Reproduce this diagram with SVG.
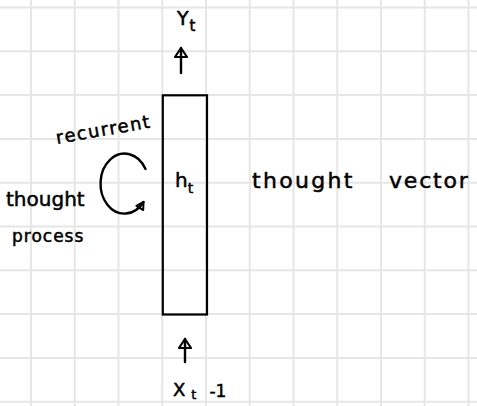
<svg xmlns="http://www.w3.org/2000/svg" width="477" height="406" viewBox="0 0 477 406">
  <style>
    .grid line { stroke: #e6e6e6; stroke-width: 2; }
    .ink { fill: none; stroke: #000; stroke-width: 2.4; stroke-linecap: round; stroke-linejoin: round; }
    .box { fill: none; stroke: #000; stroke-width: 2.2; }
    .hand { font-family: "DejaVu Sans", "Liberation Sans", sans-serif; fill: #000; stroke: #000; stroke-width: 0.5; }
  </style>
  <defs>
    <marker id="head" markerUnits="userSpaceOnUse" markerWidth="24" markerHeight="24" viewBox="-12 -12 24 24" refX="0" refY="0" orient="auto">
      <path d="M-9,-6 L0,0 L-9,6 Z" fill="none" stroke="#000" stroke-width="2.2" stroke-linejoin="round"/>
    </marker>
    <marker id="headSmall" markerUnits="userSpaceOnUse" markerWidth="20" markerHeight="20" viewBox="-10 -10 20 20" refX="0" refY="0" orient="auto">
      <path d="M-7,-4 L0,0 L-7,4 Z" fill="none" stroke="#000" stroke-width="2" stroke-linejoin="round"/>
    </marker>
  </defs>
  <rect width="477" height="406" fill="#fff"/>
  <g class="grid" id="grid">
    <line x1="31" y1="0" x2="31" y2="406"/>
    <line x1="74.75" y1="0" x2="74.75" y2="406"/>
    <line x1="118.5" y1="0" x2="118.5" y2="406"/>
    <line x1="162.25" y1="0" x2="162.25" y2="406"/>
    <line x1="206" y1="0" x2="206" y2="406"/>
    <line x1="249.75" y1="0" x2="249.75" y2="406"/>
    <line x1="293.5" y1="0" x2="293.5" y2="406"/>
    <line x1="337.25" y1="0" x2="337.25" y2="406"/>
    <line x1="381" y1="0" x2="381" y2="406"/>
    <line x1="424.75" y1="0" x2="424.75" y2="406"/>
    <line x1="468.5" y1="0" x2="468.5" y2="406"/>
    <line x1="0" y1="7.5" x2="477" y2="7.5"/>
    <line x1="0" y1="51.3" x2="477" y2="51.3"/>
    <line x1="0" y1="95.1" x2="477" y2="95.1"/>
    <line x1="0" y1="138.9" x2="477" y2="138.9"/>
    <line x1="0" y1="182.7" x2="477" y2="182.7"/>
    <line x1="0" y1="226.5" x2="477" y2="226.5"/>
    <line x1="0" y1="270.3" x2="477" y2="270.3"/>
    <line x1="0" y1="314.1" x2="477" y2="314.1"/>
    <line x1="0" y1="357.9" x2="477" y2="357.9"/>
    <line x1="0" y1="401.7" x2="477" y2="401.7"/>
  </g>

  <g id="node-ht">
    <rect class="box" x="162.8" y="95.3" width="44.2" height="219.2"/>
    <text class="hand" x="175" y="187" font-size="20">h<tspan font-size="14" dy="6">t</tspan></text>
  </g>

  <g id="node-yt">
    <text class="hand" x="177" y="25" font-size="19">Y<tspan font-size="15" dx="1" dy="6">t</tspan></text>
  </g>

  <g id="node-xt">
    <text class="hand" x="173" y="396" font-size="18">X<tspan font-size="13" dx="6" dy="3">t</tspan><tspan font-size="17" dx="13" dy="-2">-1</tspan></text>
  </g>

  <g id="label-thought-vector">
    <text class="hand" x="252" y="188" font-size="22" letter-spacing="2.3">thought<tspan x="389" letter-spacing="1.8">vector</tspan></text>
  </g>

  <g id="label-recurrent">
    <text class="hand" x="57" y="144" font-size="18" letter-spacing="1.5" transform="rotate(-10 57 144)">recurrent</text>
  </g>

  <g id="label-thought-process">
    <text class="hand" x="6" y="206" font-size="20">thought</text>
    <text class="hand" x="12" y="242" font-size="17" letter-spacing="1">process</text>
  </g>

  <g id="connectors">
    <line class="ink" x1="181" y1="73" x2="181" y2="48" marker-end="url(#head)"/>
    <line class="ink" x1="185" y1="362" x2="185" y2="339" marker-end="url(#head)"/>
    <path class="ink" d="M145.5,169 A24,30 0 1 0 143.5,202" marker-end="url(#headSmall)"/>
  </g>
</svg>
